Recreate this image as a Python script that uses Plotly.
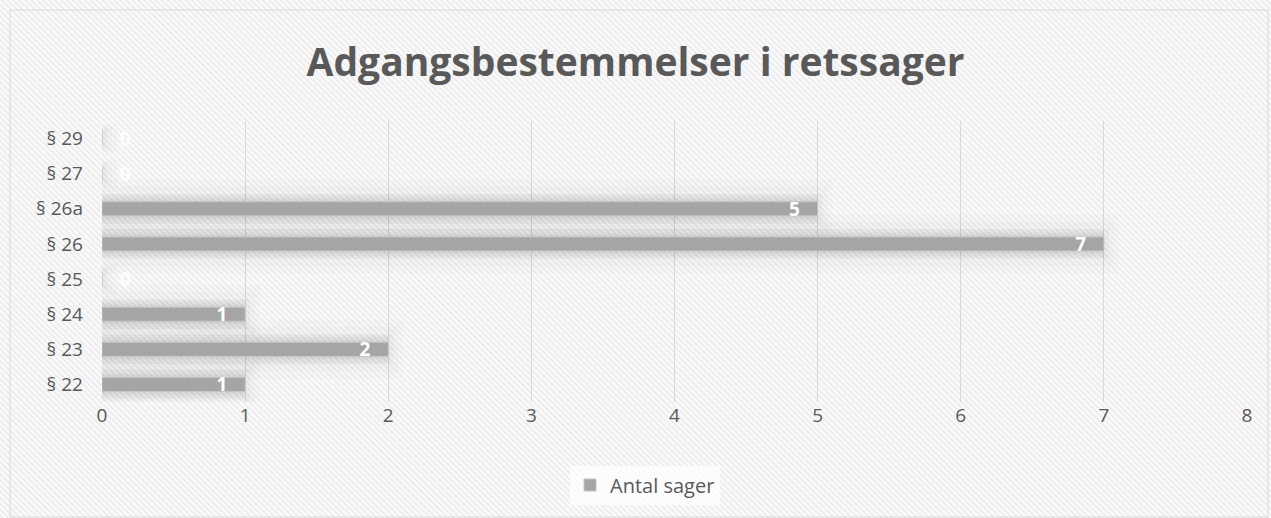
import base64
import plotly.graph_objects as go

categories = ["§ 22", "§ 23", "§ 24", "§ 25", "§ 26", "§ 26a", "§ 27", "§ 29"]
values = [1, 2, 1, 0, 7, 5, 0, 0]
series_name = "Antal sager"
title_text = "Adgangsbestemmelser i retssager"
x_ticks = [0, 1, 2, 3, 4, 5, 6, 7, 8]

W, H = 1271, 518
ML, MR, MT, MB = 102, 24, 121, 116
PW, PH = W - ML - MR, H - MT - MB

svg = f'''<svg xmlns="http://www.w3.org/2000/svg" width="{W}" height="{H}" viewBox="0 0 {W} {H}" preserveAspectRatio="none">
<defs><pattern id="p" width="4.2" height="4.2" patternUnits="userSpaceOnUse" patternTransform="rotate(-45)">
<rect width="4.2" height="4.2" fill="#fbfbfb"/><rect width="2" height="4.2" fill="#ededed"/></pattern></defs>
<rect width="{W}" height="{H}" fill="url(#p)"/></svg>'''
src = "data:image/svg+xml;base64," + base64.b64encode(svg.encode()).decode()

def px(xp):
    return (xp - ML) / PW

def py(yp):
    return (H - MB - yp) / PH

fig = go.Figure()

# soft shadow layers
for w, op, lw in [(0.85, 0.018, 30), (0.7, 0.024, 20), (0.56, 0.032, 10)]:
    fig.add_trace(go.Bar(
        x=values, y=categories, orientation="h", width=w,
        marker=dict(color=f"rgba(0,0,0,{op})", line=dict(color=f"rgba(0,0,0,{op*0.7})", width=lw)),
        showlegend=False, hoverinfo="skip",
    ))

fig.add_trace(go.Bar(
    x=values, y=categories, orientation="h", name=series_name, width=0.4,
    marker=dict(color="#a5a5a5", line=dict(color="#c4c4c4", width=1)),
    texttemplate=["%{x}   " if v > 0 else "   %{x}" for v in values],
    textposition=["inside" if v > 0 else "outside" for v in values],
    insidetextanchor="end",
    textangle=0,
    constraintext="none",
    textfont=dict(color="white", size=19, family="Open Sans", weight="bold"),
    outsidetextfont=dict(color="rgba(255,255,255,0.9)", size=19, family="Open Sans", weight="bold"),
    cliponaxis=False,
))

fig.update_layout(
    width=W, height=H,
    margin=dict(l=ML, r=MR, t=MT, b=MB, autoexpand=False),
    paper_bgcolor="white",
    plot_bgcolor="rgba(0,0,0,0)",
    barmode="overlay",
    title=dict(text=title_text, x=0.5, xanchor="center", y=1 - 62 / H, yanchor="middle",
               font=dict(family="Open Sans", size=39, color="#595959", weight="bold")),
    xaxis=dict(range=[0, 8], tickvals=x_ticks, showgrid=True, gridcolor="#d9d9d9", gridwidth=1,
               zeroline=False, showline=False, ticks="", automargin=False,
               tickfont=dict(family="Open Sans", size=19, color="#595959")),
    yaxis=dict(categoryorder="array", categoryarray=categories, showgrid=False, showline=False,
               ticks="", ticklabelstandoff=18, automargin=False,
               tickfont=dict(family="Open Sans", size=19, color="#595959")),
    showlegend=True,
    legend=dict(orientation="h", x=px(645), xanchor="center", y=py(485), yanchor="middle",
                bgcolor="rgba(255,255,255,0.7)",
                font=dict(family="Open Sans", size=20, color="#595959")),
    images=[dict(source=src, xref="paper", yref="paper", x=px(0), y=py(0),
                 sizex=W / PW, sizey=H / PH, sizing="stretch", layer="below",
                 xanchor="left", yanchor="top")],
    shapes=[dict(type="rect", xref="paper", yref="paper", x0=px(10), x1=px(1268), y0=py(517), y1=py(10),
                 line=dict(color="#d9d9d9", width=1), fillcolor="rgba(0,0,0,0)", layer="below")],
)

fig.write_html("out.html", config={"displayModeBar": False},
               post_script="document.body.style.margin='0';document.body.style.overflow='hidden';")
